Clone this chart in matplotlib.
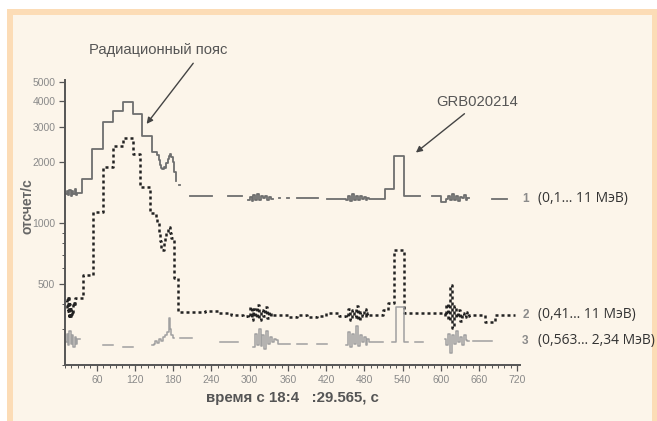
import numpy as np
import matplotlib.pyplot as plt
from matplotlib.patches import Rectangle
from matplotlib.ticker import FixedLocator, NullFormatter

nan = np.nan

# канал 1 (0,1...11 МэВ) - время, с / отсчеты в с
t1 = [11, 13, 15, 17, 19, 21, 23, 25, 27, 29,
      30, 36.7, 52.4, 69.6, 85, 101, 116.7, 130.8, 146.5,
      151, 154, 157, 159, 161, 163, 165, 167, 169, 171, 173, 175, 177, 179, 181, 184,
      185, 189, 191, 206, 241, 266, 288,
      297, 300, 303, 306, 309, 312, 315, 318, 321, 324, 327, 330, 333,
      336, 346, 348, 359, 361, 374, 407, 421,
      452, 455, 458, 461, 464, 467, 470, 473, 476, 479, 482, 485,
      488, 512, 526, 542, 567, 587, 601,
      609, 612, 615, 618, 621, 624, 627, 630, 633, 636, 639, 642,
      645, 680, 704]
v1 = [1400, 1450, 1380, 1460, 1370, 1440, 1390, 1470, 1380, 1420,
      1420, 1650, 2320, 3160, 3580, 3960, 3460, 2690, 2240,
      2240, 2180, 2050, 1950, 1880, 1846, 1900, 1870, 1980, 2080, 2150, 2190, 2120, 2000, 1800, 1610,
      nan, 1540, nan, 1358, nan, 1358, nan,
      1310, 1350, 1290, 1380, 1310, 1400, 1300, 1360, 1330, 1370, 1310, 1350, 1320,
      nan, 1340, nan, 1340, nan, 1340, nan, 1326,
      1310, 1360, 1290, 1390, 1310, 1360, 1300, 1370, 1320, 1350, 1310, 1340,
      1326, 1470, 2142, 1358, nan, 1358, 1268,
      1320, 1370, 1300, 1390, 1310, 1360, 1290, 1350, 1330, 1380, 1310, 1340,
      nan, 1326, nan]

# канал 2 (0,41...11 МэВ)
t2 = [11, 12.5, 14, 15.5, 17, 18.5, 20, 21.5, 23, 24.5,
      25.7, 38, 54, 69.6, 85, 101, 116.7, 127.7, 143.4,
      151, 153, 155, 157, 159, 161, 163, 165, 167, 169, 171, 173, 175, 177,
      181, 187, 230, 250, 270, 290,
      297, 300, 303, 306, 309, 312, 315, 318, 321, 324, 327, 330, 333,
      336, 360, 375, 390, 405, 420, 440,
      452, 455, 458, 461, 464, 467, 470, 473, 476, 479, 482, 485,
      488, 509, 517, 526, 542,
      606, 609, 612, 615, 618, 621, 624, 627, 630, 633, 636, 639, 642,
      645, 670, 685, 716]
v2 = [420, 370, 440, 350, 400, 340, 380, 355, 410, 390,
      429, 558, 1144, 1888, 2400, 2628, 2192, 1504, 1130,
      1130, 1080, 1000, 900, 820, 760, 741, 800, 850, 900, 940, 964, 900, 850,
      539, 366, 370, 360, 355, 350,
      345, 385, 335, 380, 345, 395, 335, 375, 350, 385, 340, 365, 350,
      352, 345, 355, 345, 350, 360, 350,
      345, 380, 335, 375, 345, 390, 335, 365, 350, 380, 345, 360,
      355, 374, 406, 741, 361,
      350, 400, 335, 498, 305, 390, 345, 375, 330, 360, 345, 365, 350,
      354, 327, 354, nan]

# канал 3 (0,563...2,34 МэВ)
t3 = [11, 13, 15, 17, 19, 21, 23, 25, 27, 29,
      33, 69.6, 85, 101, 116.7,
      146, 149, 152, 155, 158, 161, 164, 167, 170, 173, 175, 177, 179,
      181, 190, 209, 253, 281,
      305, 308, 311, 314, 317, 320, 323, 326, 329, 332, 335, 338, 341,
      344, 363, 374, 390, 405, 421,
      452, 455, 458, 461, 464, 467, 470, 473, 476, 479, 482, 485,
      488, 509, 524, 529, 543, 549, 559, 572,
      606, 609, 612, 615, 618, 621, 624, 627, 630, 633, 636, 639, 642,
      645, 650, 681]
v3 = [260, 285, 250, 295, 255, 280, 245, 275, 255, 270,
      nan, 251, nan, 245, nan,
      250, 255, 262, 258, 268, 262, 275, 280, 290, 342, 300, 280, 272,
      nan, 272, nan, 260, nan,
      245, 285, 252, 300, 248, 280, 240, 295, 255, 275, 260, 270, 265,
      254, nan, 254, nan, 254, nan,
      252, 290, 245, 285, 255, 310, 248, 280, 260, 275, 252, 270,
      260, nan, 260, 387, 260, nan, 260, nan,
      270, 252, 285, 229, 280, 255, 295, 260, 275, 252, 280, 265, 262,
      nan, 263, nan]

xticks = [60, 120, 180, 240, 300, 360, 420, 480, 540, 600, 660, 720]
yticks = [500, 1000, 2000, 3000, 4000, 5000]
yminor = [200, 300, 400, 600, 700, 800, 900]
nomer = ['1', '2', '3']
diapazon = ['(0,1… 11 МэВ)', '(0,41… 11 МэВ)', '(0,563… 2,34 МэВ)']

fig = plt.figure(figsize=(6.57, 4.21), dpi=100)
fig.patch.set_facecolor('white')
# рамка и фон
fig.patches.append(Rectangle((7/657, 0), 650/657, 412/421, transform=fig.transFigure,
                             facecolor='#fcdcb6', edgecolor='none', zorder=-2))
fig.patches.append(Rectangle((13/657, 0), 639/657, 406/421, transform=fig.transFigure,
                             facecolor='#fcf5ea', edgecolor='none', zorder=-1))

ax = fig.add_axes([65/657, 56/421, 455/657, 285/421])
ax.set_facecolor('none')

ax.plot(t1, v1, drawstyle='steps-post', color='#6e6e6e', lw=1.3)
ax.plot(t2, v2, drawstyle='steps-post', color='#222222', lw=1.8, ls=(0, (1.2, 1.2)))
ax.plot(t3, v3, drawstyle='steps-post', color='#a0a0a0', lw=1.1)

ax.set_yscale('log')
ax.set_xlim(10, 724.5)
ax.set_ylim(200, 5100)

for s in ['top', 'right']:
    ax.spines[s].set_visible(False)
for s in ['left', 'bottom']:
    ax.spines[s].set_color('#555555')
    ax.spines[s].set_linewidth(1.4)

ax.set_xticks(xticks)
ax.set_xticklabels([str(x) for x in xticks])
ax.xaxis.set_minor_locator(FixedLocator(np.arange(10, 725, 10)))
ax.yaxis.set_major_locator(FixedLocator(yticks))
ax.set_yticklabels([str(y) for y in yticks])
ax.yaxis.set_minor_locator(FixedLocator(yminor))
ax.yaxis.set_minor_formatter(NullFormatter())
ax.tick_params(which='major', length=4, width=0.9, color='#555555',
               labelsize=7.5, labelcolor='#8a8a8a', pad=3)
ax.tick_params(which='minor', length=2.5, width=0.7, color='#555555')
for lab in ax.get_xticklabels() + ax.get_yticklabels():
    lab.set_family('Liberation Sans')

ax.text(0.499, -0.116, 'время с 18:4   :29.565, с', transform=ax.transAxes,
        ha='center', va='center', fontsize=10.8, color='#555555',
        family='Liberation Sans', fontweight='bold')
ax.text(-0.0835, 0.558, 'отсчет/с', transform=ax.transAxes, rotation=90,
        ha='center', va='center', fontsize=10, color='#666666',
        family='Liberation Sans', fontweight='bold')

# подписи со стрелками
ax.annotate('', xy=(135.5, 3020), xytext=(214, 6325), annotation_clip=False,
            arrowprops=dict(arrowstyle='-|>', color='#444444', lw=1.0, mutation_scale=9))
ax.text(0.204, 1.105, 'Радиационный пояс', transform=ax.transAxes,
        ha='center', va='center', fontsize=10.6, color='#555555', family='Liberation Sans')
ax.annotate('', xy=(557.6, 2192), xytext=(640.7, 3546), annotation_clip=False,
            arrowprops=dict(arrowstyle='-|>', color='#444444', lw=1.0, mutation_scale=9))
ax.text(0.905, 0.923, 'GRB020214', transform=ax.transAxes,
        ha='center', va='center', fontsize=10.6, color='#555555', family='Liberation Sans')

# номера каналов и диапазоны энергий справа
for v, n, d in zip([v1, v2, v3], nomer, diapazon):
    last = [x for x in v if not np.isnan(x)][-1]
    ax.text(733, last, n, ha='center', va='center', fontsize=8.5, color='#8a8a8a',
            family='Liberation Sans', fontweight='bold', clip_on=False)
    ax.text(752, last, d, ha='left', va='center', fontsize=10, color='#333333',
            family='Open Sans', clip_on=False)

fig.savefig('out.png', dpi=100)
